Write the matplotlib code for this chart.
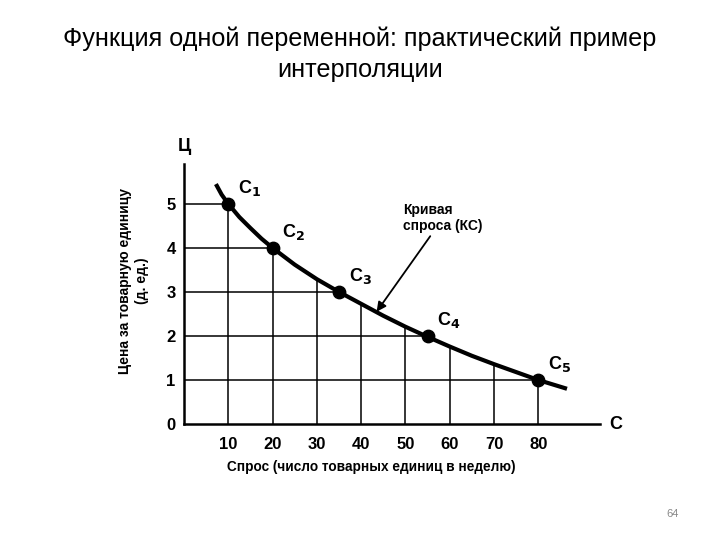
import matplotlib.pyplot as plt

plt.rcParams['font.family'] = ['Liberation Sans', 'DejaVu Sans']

# points C1..C5 (demand, price)
point_x = [10, 20, 35, 55, 80]
point_y = [5, 4, 3, 2, 1]
point_names = ['1', '2', '3', '4', '5']

# demand curve
curve_x = [7.2, 8.5, 10, 12.5, 15, 17.5, 20, 25, 30, 35, 40, 45, 50, 55, 60, 65, 70, 75, 80, 86.5]
curve_y = [5.45, 5.21, 5.0, 4.7, 4.45, 4.21, 4.0, 3.62, 3.29, 3.0, 2.73, 2.46, 2.21, 1.98, 1.76, 1.55, 1.36, 1.18, 1.0, 0.8]

# grid verticals and where they meet the curve
grid_x = [10, 20, 30, 40, 50, 60, 70, 80]
grid_top = [5.0, 4.0, 3.29, 2.73, 2.21, 1.76, 1.36, 1.0]

x_ticks = [10, 20, 30, 40, 50, 60, 70, 80]
y_ticks = [0, 1, 2, 3, 4, 5]

fig = plt.figure(figsize=(7.2, 5.4), dpi=100)
fig.text(0.5, 0.9, 'Функция одной переменной: практический пример\nинтерполяции',
         ha='center', va='center', fontsize=18.2, linespacing=1.38)
fig.text(0.934, 0.048, '64', ha='center', va='center', fontsize=8, color='#888888')

ax = fig.add_axes([0.2556, 0.2148, 0.578, 0.481])
ax.set_xlim(0, 94)
ax.set_ylim(0, 5.9)

for s in ['top', 'right']:
    ax.spines[s].set_visible(False)
for s in ['left', 'bottom']:
    ax.spines[s].set_linewidth(1.8)

# grid lines up to the curve
for gx, gt in zip(grid_x, grid_top):
    ax.plot([gx, gx], [0, gt], color='black', lw=1.1)
for px, py in zip(point_x, point_y):
    ax.plot([0, px], [py, py], color='black', lw=1.1)

ax.plot(curve_x, curve_y, color='black', lw=3, solid_capstyle='butt')
ax.scatter(point_x, point_y, s=80, color='black', zorder=5)

for px, py, name in zip(point_x, point_y, point_names):
    ax.annotate('C$_\\mathbf{' + name + '}$', (px, py), xytext=(7, 4), textcoords='offset points',
                fontsize=13, fontweight='bold', ha='left', va='bottom')

ax.annotate('Кривая\nспроса (КС)', xy=(43.5, 2.55), xytext=(49.5, 4.33),
            fontsize=10, fontweight='bold', ha='left', va='bottom', linespacing=1.2,
            arrowprops=dict(arrowstyle='-|>', color='black', lw=1.3, shrinkA=0, shrinkB=0,
                            mutation_scale=14))

ax.set_xticks(x_ticks)
ax.set_xticklabels([str(v) for v in x_ticks], fontsize=12, fontweight='bold')
ax.set_yticks(y_ticks)
ax.set_yticklabels([str(v) for v in y_ticks], fontsize=12, fontweight='bold')
ax.tick_params(length=0, pad=9)
ax.tick_params(axis='y', pad=6)

ax.set_xlabel('Спрос (число товарных единиц в неделю)', fontsize=9.8, fontweight='bold')
ax.xaxis.set_label_coords(0.45, -0.138)
ax.set_ylabel('Цена за товарную единицу\n(д. ед.)', fontsize=10, fontweight='bold')
ax.yaxis.set_label_coords(-0.085, 0.55)

ax.text(0, 6.3, 'Ц', fontsize=13, fontweight='bold', ha='center', va='center', clip_on=False)
ax.text(97.5, 0, 'С', fontsize=13, fontweight='bold', ha='center', va='center', clip_on=False)

fig.savefig('out.png', dpi=100)
